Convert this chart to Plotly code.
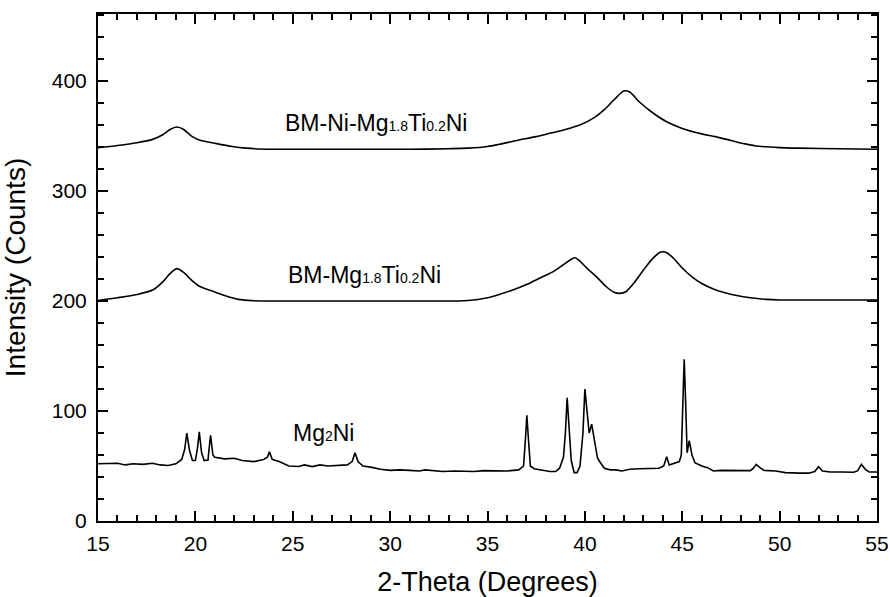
import plotly.graph_objects as go

# ---- data ----
mg2ni_x = [15.0, 15.5, 16.0, 16.4, 16.8, 17.3, 17.8, 18.2, 18.6, 19.0, 19.3, 19.45, 19.56, 19.7, 19.85,
           20.0, 20.1, 20.2, 20.32, 20.45, 20.65, 20.7, 20.78, 20.9, 21.0, 21.5, 22.0, 22.4, 23.0, 23.5,
           23.7, 23.8, 23.95, 24.3, 24.8, 25.3, 25.6, 26.0, 26.4, 26.8, 27.3, 27.8, 28.05, 28.2, 28.35,
           28.6, 29.0, 29.5, 30.0, 30.5, 31.0, 31.5, 31.8, 32.2, 32.7, 33.3, 33.8, 34.3, 34.8, 35.5,
           36.0, 36.6, 36.85, 36.95, 37.02, 37.1, 37.2, 37.4, 37.8, 38.2, 38.5, 38.7, 38.9, 39.0, 39.09,
           39.2, 39.3, 39.45, 39.6, 39.75, 39.9, 40.0, 40.12, 40.22, 40.35, 40.5, 40.65, 40.8, 41.0, 41.3,
           41.6, 41.9, 42.3, 42.8, 43.3, 43.8, 44.05, 44.2, 44.33, 44.5, 44.85, 44.95, 45.02, 45.1, 45.17,
           45.25, 45.36, 45.5, 45.65, 46.0, 46.3, 46.6, 47.0, 47.5, 48.0, 48.5, 48.65, 48.8, 48.95, 49.2,
           49.8, 50.3, 51.0, 51.5, 51.8, 52.0, 52.2, 52.6, 53.2, 53.8, 54.0, 54.2, 54.4, 54.6, 55.0]
mg2ni_y = [52, 52, 52.5, 51, 52, 51.5, 52.5, 51, 50.5, 52, 56, 65, 80, 64, 55,
           55, 65, 81, 62, 55, 55.5, 65, 78, 60, 58, 56.5, 57, 55, 54, 56,
           58, 63, 56, 54, 50, 49.5, 51, 49.5, 51, 50, 50.5, 51, 54, 62, 54,
           50, 49, 47, 46, 46.5, 46, 45.5, 46.5, 46, 45, 45.5, 45, 45, 45.8, 45.8,
           45.5, 46.5, 50, 75, 96, 75, 50, 47.5, 46.5, 45, 45, 48, 58, 80, 112,
           80, 55, 44, 44, 50, 80, 120, 95, 80, 88, 72, 57, 53, 48, 46.5,
           46.5, 45.5, 47, 47.5, 47.5, 48, 50, 58.5, 51, 52, 54, 60, 110, 147, 110,
           62, 73, 60, 53, 50, 48.5, 45.5, 46, 46, 46, 45.8, 48, 51.5, 49, 46,
           45.5, 44, 43.5, 43.5, 45, 49.4, 45.5, 44.5, 44.5, 44.3, 45.5, 51.5, 47, 44.5, 44.5]

bm_x = [15.0, 16.0, 17.0, 17.8, 18.3, 18.7, 19.05, 19.4, 19.8, 20.2, 20.8, 21.5, 22.2, 23.0, 24.0,
        26.0, 28.0, 30.0, 32.0, 34.0, 35.0, 35.6, 36.3, 37.0, 37.7, 38.4, 38.9, 39.3, 39.5, 39.7,
        40.1, 40.6, 41.1, 41.5, 41.8, 42.1, 42.5, 43.0, 43.5, 43.9, 44.2, 44.6, 45.0, 45.5, 46.0,
        46.6, 47.2, 47.8, 48.5, 49.3, 50.0, 52.0, 55.0]
bm_y = [200.5, 203, 206, 210, 217, 225, 229.5, 226, 219, 213.5, 209.5, 205, 201.5, 200.3, 200,
        200, 200, 200, 200, 200.5, 203, 206, 210, 215, 221, 227, 233, 238, 239.4, 237,
        230, 222, 213, 208, 207, 208.5, 216, 228, 239, 244.5, 244, 238, 230, 222, 216,
        211, 207.5, 205, 203, 201.5, 201, 201, 201]

bmni_x = [15.0, 16.0, 17.0, 17.8, 18.3, 18.7, 19.05, 19.4, 19.8, 20.2, 21.0, 21.9, 22.6, 23.3, 25.0,
          28.0, 31.0, 33.0, 34.0, 35.0, 35.6, 36.5, 37.5, 38.2, 39.0, 39.8, 40.5, 41.0, 41.5, 42.0,
          42.3, 42.8, 43.5, 44.2, 45.0, 46.0, 46.7, 47.5, 48.2, 48.8, 50.0, 51.0, 53.0, 55.0]
bmni_y = [339.5, 341.5, 344, 347, 351, 356, 358.2, 356, 350, 346.5, 343.5, 340.5, 339, 338.3, 338,
          338, 338, 338.5, 339, 340.5, 342.5, 346, 349.5, 352.5, 356, 360.5, 367, 374, 383, 391,
          390, 381, 371, 363, 357, 352, 349.5, 346, 343, 341, 339.5, 339, 338.5, 338]

label_top = "BM-Ni-Mg<span style='font-size:14px'>1.8</span>Ti<span style='font-size:14px'>0.2</span>Ni"
label_mid = "BM-Mg<span style='font-size:14px'>1.8</span>Ti<span style='font-size:14px'>0.2</span>Ni"
label_low = "Mg<span style='font-size:14px'>2</span>Ni"

FONT = "Liberation Sans, Arial, Helvetica, sans-serif"

fig = go.Figure()
fig.add_trace(go.Scatter(x=mg2ni_x, y=mg2ni_y, mode="lines", line=dict(color="black", width=1.6), showlegend=False))
fig.add_trace(go.Scatter(x=bm_x, y=bm_y, mode="lines", line=dict(color="black", width=1.6, shape="spline", smoothing=0.8), showlegend=False))
fig.add_trace(go.Scatter(x=bmni_x, y=bmni_y, mode="lines", line=dict(color="black", width=1.6, shape="spline", smoothing=0.8), showlegend=False))

ann_font = dict(family=FONT, size=23, color="black")
fig.add_annotation(x=24.5, y=362, text=label_top, showarrow=False, xanchor="left", yanchor="middle", font=ann_font)
fig.add_annotation(x=24.64, y=224, text=label_mid, showarrow=False, xanchor="left", yanchor="middle", font=ann_font)
fig.add_annotation(x=24.93, y=80, text=label_low, showarrow=False, xanchor="left", yanchor="middle", font=ann_font)

axis_common = dict(
    showline=True, linecolor="black", linewidth=2, mirror="ticks",
    ticks="inside", ticklen=10, tickwidth=2, tickcolor="black",
    showgrid=False, zeroline=False, automargin=False,
    tickfont=dict(family=FONT, size=21, color="black"),
)
fig.update_xaxes(**axis_common, range=[15, 55], tick0=15, dtick=5, ticklabelstandoff=3,
                 minor=dict(ticks="inside", ticklen=6, tickwidth=1.5, tickcolor="black", dtick=1, showgrid=False),
                 title=dict(text="2-Theta (Degrees)", font=dict(family=FONT, size=27, color="black"), standoff=22))
fig.update_yaxes(**axis_common, range=[0, 461], tick0=0, dtick=100, ticklabelstandoff=5,
                 minor=dict(ticks="inside", ticklen=6, tickwidth=1.5, tickcolor="black", dtick=20, showgrid=False),
                 title=dict(text="Intensity (Counts)", font=dict(family=FONT, size=28, color="black"), standoff=19))

fig.update_layout(
    width=890, height=597,
    margin=dict(l=98, r=13, t=14, b=76),
    paper_bgcolor="white", plot_bgcolor="white",
    font=dict(family=FONT, color="black"),
)

fig.write_html("out.html", config={"displayModeBar": False},
               post_script="document.body.style.margin='0px';document.body.style.overflow='hidden';")
